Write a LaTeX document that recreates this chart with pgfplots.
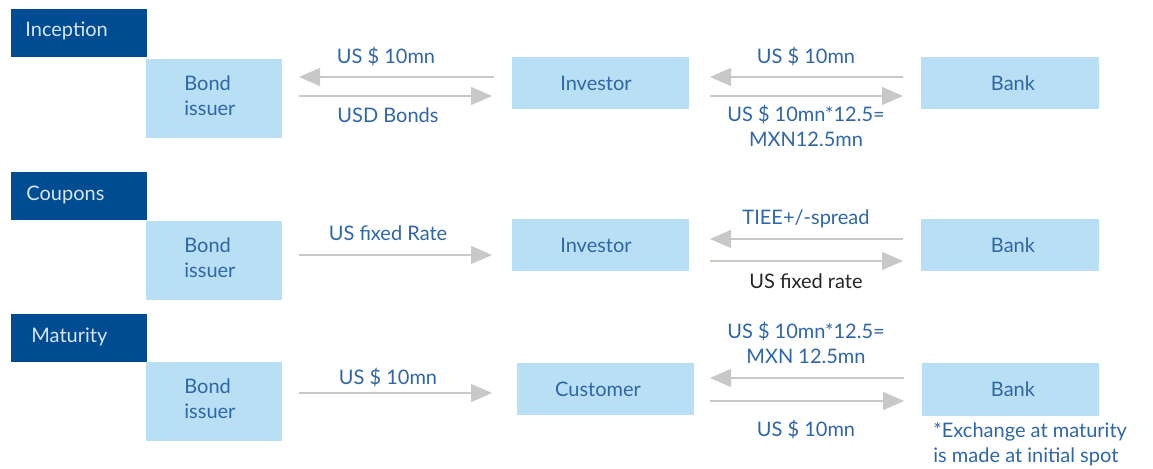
\documentclass[border=0pt]{standalone}
\usepackage{pgfplots}
\pgfplotsset{compat=1.18}
\usepackage{fontspec}
\setmainfont{Lato}
\usetikzlibrary{arrows.meta}
\definecolor{dkblue}{HTML}{004C93}
\definecolor{ltblue}{HTML}{B8DFF3}
\definecolor{txblue}{HTML}{2F66A8}
\definecolor{arrgrey}{HTML}{C8C8C8}
\newcommand{\lbox}[4]{\addplot[fill=ltblue,draw=none] coordinates {(#1,#2)(#3,#2)(#3,#4)(#1,#4)} --cycle;}
\newcommand{\dbox}[4]{\addplot[fill=dkblue,draw=none] coordinates {(#1,#2)(#3,#2)(#3,#4)(#1,#4)} --cycle;}
\newcommand{\rarr}[3]{\addplot[arrgrey,line width=0.6pt,-{Triangle[length=10.5pt,width=9pt]}] coordinates {(#1,#3)(#2,#3)};}
\begin{document}
\fontsize{10}{12.3}\selectfont
\color{txblue}
\begin{tikzpicture}
\begin{axis}[x=0.5pt,y=-0.5pt,xmin=0,xmax=1153,ymin=0,ymax=469,hide axis,clip=false]
\addplot[draw=none] coordinates {(0,0)(1153,469)};
% header boxes
\dbox{11}{9}{147}{57}
\dbox{11}{172}{147}{220}
\dbox{11}{314}{147}{362}
\node[inner sep=0pt,anchor=west,text=white!85!dkblue] at (axis cs:25,31) {Inception};
\node[inner sep=0pt,anchor=west,text=white!85!dkblue] at (axis cs:26,195) {Coupons};
\node[inner sep=0pt,anchor=west,text=white!85!dkblue] at (axis cs:31,337) {Maturity};
% bond issuer boxes
\lbox{146}{59}{282}{138}
\lbox{146}{221}{282}{300}
\lbox{146}{362}{282}{441}
\node[inner sep=0pt,text=txblue,anchor=west,align=left] at (axis cs:184,96) {Bond\\issuer};
\node[inner sep=0pt,text=txblue,anchor=west,align=left] at (axis cs:184,258) {Bond\\issuer};
\node[inner sep=0pt,text=txblue,anchor=west,align=left] at (axis cs:184,399) {Bond\\issuer};
% middle boxes
\lbox{512}{57}{689}{109}
\lbox{512}{219}{689}{271}
\lbox{517}{363}{694}{415}
\node[text=txblue] at (axis cs:596,83) {Investor};
\node[text=txblue] at (axis cs:596,245) {Investor};
\node[text=txblue] at (axis cs:598,389) {Customer};
% bank boxes
\lbox{921}{57}{1099}{109}
\lbox{921}{219}{1099}{271}
\lbox{922}{363}{1099}{416}
\node[text=txblue] at (axis cs:1013,83) {Bank};
\node[text=txblue] at (axis cs:1013,245) {Bank};
\node[text=txblue] at (axis cs:1013,389) {Bank};
% arrows inception
\rarr{494}{299}{77}
\rarr{299}{492}{96}
\rarr{903}{710}{77}
\rarr{710}{903}{96}
% arrows coupons
\rarr{299}{492}{255}
\rarr{903}{710}{239}
\rarr{710}{903}{261}
% arrows maturity
\rarr{299}{492}{393}
\rarr{904}{710}{378}
\rarr{710}{904}{401}
% labels
\node[text=txblue] at (axis cs:386,57) {US \$ 10mn};
\node[text=txblue] at (axis cs:388,115) {USD Bonds};
\node[text=txblue] at (axis cs:806,57) {US \$ 10mn};
\node[text=txblue,inner sep=0pt,align=center] at (axis cs:806,126) {US \$ 10mn*12.5=\\MXN12.5mn};
\node[text=txblue] at (axis cs:388,233) {US fixed Rate};
\node[text=txblue] at (axis cs:806,219) {TIEE+/-spread};
\node[text=black!85] at (axis cs:806,281) {US fixed rate};
\node[text=txblue] at (axis cs:388,377) {US \$ 10mn};
\node[text=txblue,inner sep=0pt,align=center] at (axis cs:806,343) {US \$ 10mn*12.5=\\MXN 12.5mn};
\node[text=txblue] at (axis cs:806,429) {US \$ 10mn};
\node[text=txblue,inner sep=0pt,anchor=west,align=left] at (axis cs:933,444) {*Exchange at maturity\\is made at initial spot};
\end{axis}
\end{tikzpicture}
\end{document}
